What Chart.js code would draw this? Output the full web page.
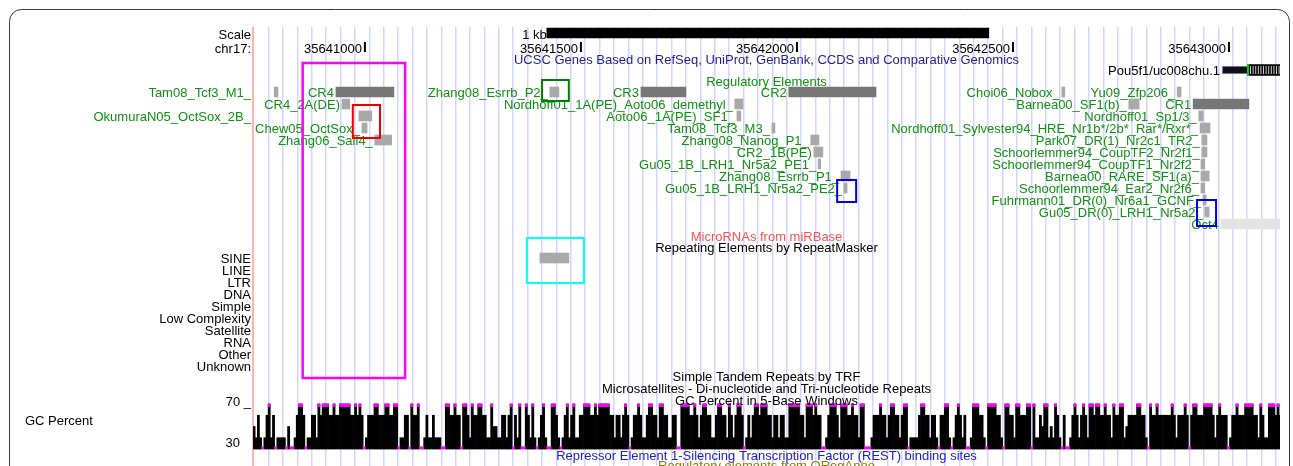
<!DOCTYPE html>
<html><head><meta charset="utf-8">
<script src="https://cdn.jsdelivr.net/npm/chart.js@4.4.1/dist/chart.umd.min.js"></script>
<style>html,body{margin:0;padding:0;background:#fff;overflow:hidden;}canvas{display:block;}</style>
</head><body>
<canvas id="c" width="1293" height="466"></canvas>
<script>
// ---------------- DATA ----------------
const viewRange = [35640741, 35643118];
const chromName = 'chr17:';
const chromTicks = [35641000, 35641500, 35642000, 35642500, 35643000];
const chromTickLabels = ['35641000', '35641500', '35642000', '35642500', '35643000'];
const scaleBarRange = [35641421, 35642444];
const scaleBarLabel = '1 kb';

const trackTitles = [
  'UCSC Genes Based on RefSeq, UniProt, GenBank, CCDS and Comparative Genomics',
  'Regulatory Elements',
  'MicroRNAs from miRBase',
  'Repeating Elements by RepeatMasker',
  'Simple Tandem Repeats by TRF',
  'Microsatellites - Di-nucleotide and Tri-nucleotide Repeats',
  'GC Percent in 5-Base Windows',
  'Repressor Element 1-Silencing Transcription Factor (REST) binding sites',
  'Regulatory elements from ORegAnno'
];

const geneName = 'Pou5f1/uc008chu.1';
const geneUtr = [35642984, 35643044];
const geneCds = [35643044, 35643118];

const regNames = [
  'Tam08_Tcf3_M1_', 'CR4', 'Zhang08_Esrrb_P2_', 'CR3', 'CR2', 'Choi06_Nobox_', 'Yu09_Zfp206_',
  'CR4_2A(DE)', 'Nordhoff01_1A(PE)_Aoto06_demethyl_', 'Barnea00_SF1(b)_', 'CR1',
  'OkumuraN05_OctSox_2B_', 'Aoto06_1A(PE)_SF1_', 'Nordhoff01_Sp1/3_',
  'Chew05_OctSox_', 'Tam08_Tcf3_M3_', 'Nordhoff01_Sylvester94_HRE_Nr1b*/2b*_Rar*/Rxr*_',
  'Zhang06_Sall4_', 'Zhang08_Nanog_P1_', 'Park07_DR(1)_Nr2c1_TR2_',
  'CR2_1B(PE)', 'Schoorlemmer94_CoupTF2_Nr2f1_',
  'Gu05_1B_LRH1_Nr5a2_PE1_', 'Schoorlemmer94_CoupTF1_Nr2f2_',
  'Zhang08_Esrrb_P1_', 'Barnea00_RARE_SF1(a)_',
  'Gu05_1B_LRH1_Nr5a2_PE2_', 'Schoorlemmer94_Ear2_Nr2f6_',
  'Fuhrmann01_DR(0)_Nr6a1_GCNF_',
  'Gu05_DR(0)_LRH1_Nr5a2_',
  'Oct4'
];
const regStart = [
  35640790, 35640933, 35641428, 35641639, 35641981, 35642613, 35642880,
  35640947, 35641856, 35642768, 35642917,
  35640986, 35641861, 35642930,
  35640993, 35641942, 35642933,
  35641023, 35642032, 35642937,
  35642039, 35642937,
  35642049, 35642935,
  35642102, 35642935,
  35642109, 35642935,
  35642940,
  35642944,
  35642981
];
const regEnd = [
  35640799, 35641067, 35641449, 35641743, 35642183, 35642620, 35642889,
  35640965, 35641875, 35642792, 35643046,
  35641016, 35641870, 35642940,
  35641005, 35641949, 35642956,
  35641062, 35642051, 35642949,
  35642060, 35642949,
  35642055, 35642944,
  35642123, 35642954,
  35642116, 35642944,
  35642947,
  35642954,
  35643118
];
const regRow = [
  0, 0, 0, 0, 0, 0, 0,
  1, 1, 1, 1,
  2, 2, 2,
  3, 3, 3,
  4, 4, 4,
  5, 5,
  6, 6,
  7, 7,
  8, 8,
  9,
  10,
  11
];
const regKind = [
  'm', 'cr', 'm', 'cr', 'cr', 'm', 'm',
  'm', 'm', 'm', 'cr',
  'm', 'm', 'm',
  'm', 'm', 'm',
  'm', 'm', 'm',
  'm', 'm',
  'm', 'm',
  'm', 'm',
  'm', 'm',
  'm',
  'm',
  'oct'
];

const repeatClasses = ['SINE', 'LINE', 'LTR', 'DNA', 'Simple', 'Low Complexity', 'Satellite', 'RNA', 'Other', 'Unknown'];
const repeatStart = [35641405];
const repeatEnd = [35641472];
const repeatClassOf = ['SINE'];

// GC percent, 5-base windows (codes index gcLevels)
const gcWindowStart = 35640741;
const gcWindowSize = 5;
const gcLevels = [20, 40, 50, 60, 80];
const gcCodesA = '21310134130111102001344301133143444334334444433434301333443334433440113304334001311311100443343304431433443311422113313';
const gcCodesB = '40314004314101341004431013413411334443343444443313313430133431134433144331133004444334313443311344331431344301313443444';
const gcCodesC = '33133133114444433144434330013444314443343314400013334331344331344011113443313310334410134313001444331044443310443314433';
const gcCodesD = '34404113244121431030013431343144344334331433441233334433104334333333431333430344333444431343330133433344443314311444343444';
const gcAxisValues = [70, 30];
const gcAxisLabels = ['70 _', '30'];

// highlight boxes (genomic start/end, vertical extent in track units)
const hlStart = [35640856, 35640972, 35641410, 35642093, 35642926, 35641375];
const hlEnd = [35641093, 35641035, 35641472, 35642137, 35642970, 35641507];
const hlTop = [63, 105, 80, 180, 200, 238];
const hlBottom = [378, 138, 101, 202, 226, 283];

// ---------------- LAYOUT / STYLE ----------------
const L = {
  areaTop: 27, areaLeft: 253, areaRightPad: 13, labelRight: 251, textDy: 1.5,
  scaleY: 33, scaleTextY: 34, chromTextY: 48, tickY: 47,
  titleY: [59, 81, 236, 247, 376, 388, 400, 455, 465],
  geneY: 70, regRow0: 92, rowStep: 12, rmRow0: 258,
  gcTop: 404, gcBottom: 449, gcLabelX: 25, gcLabelY: 420,
  gcTickRight: [251, 240], gcTickDy: [-3, -7]
};
const S = {
  font: '13px "Liberation Sans", Arial, Helvetica, sans-serif',
  titleColor: ['#1f1f8f', '#119111', '#ff5050', '#000', '#000', '#000', '#000', '#1c1cc8', '#8c7b00'],
  regText: '#119111',
  kindColor: { m: '#a9a9a9', cr: '#777777', oct: '#e3e3e3' },
  hlColor: ['#ff00ff', '#ee0000', '#008000', '#0000ee', '#0000ee', '#00ffff'],
  hlWidth: [2.5, 2, 2, 2, 2, 2],
  grid: '#d4d4ff', pink: '#ffb4b4'
};

// ---------------- BUILD ----------------
const gcCodes = (gcCodesA + gcCodesB + gcCodesC + gcCodesD).split('').map(Number);
const gcPercent = gcCodes.map(c => gcLevels[c]);
const gcCenter = i => gcWindowStart + i * gcWindowSize + gcWindowSize / 2;
const gcBlack = gcPercent.map((v, i) => ({ x: gcCenter(i), y: v > 30 ? [30, Math.min(v, 70)] : null }));
const gcHigh = gcPercent.map((v, i) => ({ x: gcCenter(i), y: v >= 70 ? [67.7, 70] : null }));
const gcLow = gcPercent.map((v, i) => ({ x: gcCenter(i), y: v <= 30 ? [30, 32] : null }));

const H = 466 - L.areaTop;
const gcRange = 40 * H / (L.gcBottom - L.gcTop);
const gcMin = 30 - (466 - L.gcBottom) * gcRange / H;

const rowY = r => L.regRow0 + L.rowStep * r;

// "order": lower values are drawn on top
const hbar = (data, color, thick, order, extra) => Object.assign({
  type: 'bar', indexAxis: 'y', xAxisID: 'x', yAxisID: 'y', data, order,
  backgroundColor: color, maxBarThickness: thick, barPercentage: 1, categoryPercentage: 1,
  grouped: false, borderWidth: 0
}, extra || {});

const vbar = (data, color, order) => ({
  type: 'bar', indexAxis: 'x', xAxisID: 'xGC', yAxisID: 'yGC', data, order,
  backgroundColor: color, barPercentage: 1, categoryPercentage: 1, grouped: false, borderWidth: 0
});

const datasets = [
  hbar([{ x: scaleBarRange, y: L.scaleY }], '#000', 10, 5),
  { type: 'scatter', xAxisID: 'x', yAxisID: 'y', data: chromTicks.map(t => ({ x: t, y: L.tickY })), order: 1,
    pointStyle: 'line', rotation: 90, radius: 5, borderWidth: 2, borderColor: '#000' },
  hbar([{ x: geneUtr, y: L.geneY }], '#111', 8, 5, { borderWidth: 1, borderColor: '#9a9ad8', borderSkipped: false }),
  hbar([{ x: geneCds, y: L.geneY }], '#000', 11, 5),
  { type: 'scatter', xAxisID: 'x', yAxisID: 'y', data: [{ x: geneCds[0], y: L.geneY }], order: 1,
    pointStyle: 'line', rotation: 90, radius: 6, borderWidth: 1.5, borderColor: '#00d000' },
  hbar(regNames.map((n, i) => ({ x: [regStart[i], regEnd[i]], y: rowY(regRow[i]) })),
       regKind.map(k => S.kindColor[k]), 10, 5),
  hbar(repeatStart.map((s, i) => ({ x: [s, repeatEnd[i]], y: L.rmRow0 + L.rowStep * repeatClasses.indexOf(repeatClassOf[i]) })),
       '#a9a9a9', 10, 5),
  vbar(gcBlack, '#000', 6),
  vbar(gcHigh, '#ff00ff', 2),
  vbar(gcLow, '#ff00ff', 2)
];
const CDS_INDEX = 3;

const guideStart = 35640777, guideStep = 33.31, guideCount = 71;

const ucscPlugin = {
  id: 'ucsc',
  beforeDraw(chart) {
    const ctx = chart.ctx;
    ctx.save();
    ctx.fillStyle = '#fff';
    ctx.fillRect(0, 0, chart.width, chart.height);
    ctx.strokeStyle = '#3a3a3a'; ctx.lineWidth = 1;
    const l = 9.5, t = 9.5, r = 1289.5, rad = 12;
    ctx.beginPath();
    ctx.moveTo(l, chart.height + 5);
    ctx.lineTo(l, t + rad);
    ctx.arcTo(l, t, l + rad, t, rad);
    ctx.lineTo(r - rad, t);
    ctx.arcTo(r, t, r, t + rad, rad);
    ctx.lineTo(r, chart.height + 5);
    ctx.stroke();
    ctx.restore();
  },
  beforeDatasetsDraw(chart) {
    const ctx = chart.ctx, a = chart.chartArea;
    ctx.save();
    ctx.strokeStyle = S.pink; ctx.lineWidth = 2;
    ctx.beginPath(); ctx.moveTo(a.left, a.top); ctx.lineTo(a.left, a.bottom); ctx.stroke();
    ctx.restore();
  },
  afterDatasetsDraw(chart) {
    const ctx = chart.ctx, a = chart.chartArea;
    const x = chart.scales.x, y = chart.scales.y, yg = chart.scales.yGC;
    const cx = (a.left + a.right) / 2;
    ctx.save();
    ctx.font = S.font;
    ctx.textBaseline = 'middle';
    const T = (s, px, py, align, color) => { ctx.fillStyle = color; ctx.textAlign = align; ctx.fillText(s, px, py + L.textDy); };

    // left labels
    T('Scale', L.labelRight, y.getPixelForValue(L.scaleTextY), 'right', '#000');
    T(chromName, L.labelRight, y.getPixelForValue(L.chromTextY), 'right', '#000');
    repeatClasses.forEach((c, i) => T(c, L.labelRight, y.getPixelForValue(L.rmRow0 + L.rowStep * i), 'right', '#000'));
    T('GC Percent', L.gcLabelX, y.getPixelForValue(L.gcLabelY), 'left', '#000');
    gcAxisValues.forEach((v, i) => T(gcAxisLabels[i], L.gcTickRight[i], yg.getPixelForValue(v) + L.gcTickDy[i], 'right', '#000'));

    // scale bar + chrom ticks
    T(scaleBarLabel, x.getPixelForValue(scaleBarRange[0]), y.getPixelForValue(L.scaleTextY), 'right', '#000');
    chromTicks.forEach((t, i) => T(chromTickLabels[i], x.getPixelForValue(t) - 3, y.getPixelForValue(L.chromTextY), 'right', '#000'));

    // titles
    trackTitles.forEach((s, i) => T(s, cx, y.getPixelForValue(L.titleY[i]), 'center', S.titleColor[i]));

    // gene
    T(geneName, x.getPixelForValue(geneUtr[0]) - 2, y.getPixelForValue(L.geneY), 'right', '#000');
    const el = chart.getDatasetMeta(CDS_INDEX).data[0];
    if (el) {
      const x0 = Math.min(el.x, el.base), x1 = Math.max(el.x, el.base);
      ctx.strokeStyle = 'rgba(255,255,255,0.9)'; ctx.lineWidth = 0.9;
      ctx.beginPath();
      for (let px = x0 + 2.5; px < x1 - 0.5; px += 2.6) {
        ctx.moveTo(px, el.y - 4); ctx.lineTo(px, el.y + 4);
      }
      ctx.stroke();
      ctx.strokeStyle = '#00d000'; ctx.lineWidth = 1.5;
      ctx.beginPath(); ctx.moveTo(x0, el.y - 6); ctx.lineTo(x0, el.y + 6); ctx.stroke();
    }

    // regulatory labels
    regNames.forEach((n, i) => {
      const px = x.getPixelForValue(regStart[i]);
      const w = ctx.measureText(n).width;
      let rx = px - 2;
      if (rx - w < a.left) rx = L.labelRight;
      T(n, rx, y.getPixelForValue(rowY(regRow[i])), 'right', S.regText);
    });

    // highlight boxes
    hlStart.forEach((s, i) => {
      const x0 = x.getPixelForValue(s), x1 = x.getPixelForValue(hlEnd[i]);
      const y0 = y.getPixelForValue(hlTop[i]), y1 = y.getPixelForValue(hlBottom[i]);
      ctx.strokeStyle = S.hlColor[i]; ctx.lineWidth = S.hlWidth[i];
      ctx.strokeRect(x0, y0, x1 - x0, y1 - y0);
    });
    ctx.restore();
  }
};

const hiddenLinear = (axis, min, max, extra) => Object.assign({
  type: 'linear', axis, display: false, min, max, offset: false, grid: { offset: false }
}, extra || {});

new Chart(document.getElementById('c'), {
  type: 'bar',
  data: { datasets },
  options: {
    responsive: false, animation: false, devicePixelRatio: 1, events: [],
    layout: { autoPadding: false, padding: { left: L.areaLeft, right: L.areaRightPad, top: L.areaTop, bottom: 0 } },
    plugins: { legend: { display: false }, tooltip: { enabled: false } },
    scales: {
      x: hiddenLinear('x', viewRange[0], viewRange[1]),
      xGC: hiddenLinear('x', viewRange[0], viewRange[1]),
      y: hiddenLinear('y', L.areaTop, 466, { reverse: true, ticks: { stepSize: 100 } }),
      yGC: hiddenLinear('y', gcMin, gcMin + gcRange),
      xg: {
        type: 'linear', axis: 'x', position: 'top', display: true, min: viewRange[0], max: viewRange[1],
        offset: false,
        grid: { color: S.grid, lineWidth: 1.5, drawTicks: false, offset: false },
        border: { display: false },
        ticks: { display: false },
        afterBuildTicks: (s) => {
          const t = [];
          for (let k = 0; k < guideCount; k++) t.push({ value: guideStart + k * guideStep });
          s.ticks = t;
        }
      }
    }
  },
  plugins: [ucscPlugin]
});
</script>
</body></html>
